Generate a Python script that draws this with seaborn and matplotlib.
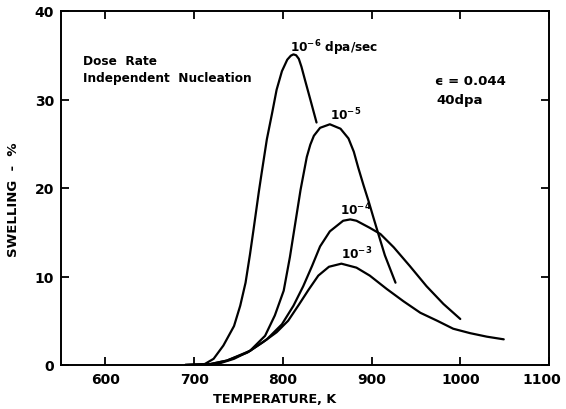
import numpy as np
import pandas as pd
import matplotlib
matplotlib.use("Agg")
import matplotlib.pyplot as plt
from matplotlib.transforms import ScaledTranslation
import seaborn as sns

# Swelling vs. irradiation temperature for four dose rates (dpa/sec)
temp_1e6 = [690, 711, 722, 733, 745, 752, 758, 763, 767, 773, 776, 782, 788, 793, 799,
            805, 809, 812, 815, 818, 821, 825, 831, 838]
swell_1e6 = [0, 0.05, 0.7, 2.2, 4.4, 6.7, 9.3, 12.5, 15.3, 19.6, 21.6, 25.5, 28.5, 31.1, 33.2,
             34.5, 34.95, 35.1, 35.0, 34.6, 33.7, 32.2, 30.0, 27.4]

temp_1e5 = [690, 726, 745, 763, 780, 791, 801, 808, 814, 820, 827, 831, 835, 842, 853,
            865, 874, 880, 885, 891, 897, 902, 908, 915, 927]
swell_1e5 = [0, 0.1, 0.7, 1.6, 3.3, 5.6, 8.4, 12.2, 16.0, 19.8, 23.5, 24.9, 25.9, 26.8, 27.2,
             26.7, 25.6, 24.1, 22.3, 20.3, 18.4, 16.7, 14.7, 12.4, 9.3]

temp_1e4 = [690, 718, 737, 763, 782, 799, 812, 823, 833, 842, 853, 868, 876, 883, 898,
            910, 925, 943, 962, 981, 1000]
swell_1e4 = [0, 0.1, 0.5, 1.6, 2.9, 4.6, 6.7, 8.9, 11.2, 13.4, 15.1, 16.3, 16.45, 16.3, 15.5,
             14.8, 13.3, 11.2, 8.9, 6.9, 5.2]

temp_1e3 = [690, 718, 737, 760, 778, 793, 806, 818, 829, 840, 852, 866, 883, 898, 917,
            936, 955, 974, 992, 1011, 1030, 1049]
swell_1e3 = [0, 0.1, 0.5, 1.4, 2.6, 3.7, 5.0, 6.8, 8.5, 10.1, 11.1, 11.45, 11.0, 10.1, 8.6,
             7.2, 5.9, 5.0, 4.1, 3.6, 3.2, 2.9]

rate_names = ["1e-6", "1e-5", "1e-4", "1e-3"]
x_ticks = [600, 700, 800, 900, 1000, 1100]
y_ticks = [0, 10, 20, 30, 40]

frames = []
for name, t, s in zip(rate_names,
                      [temp_1e6, temp_1e5, temp_1e4, temp_1e3],
                      [swell_1e6, swell_1e5, swell_1e4, swell_1e3]):
    frames.append(pd.DataFrame({"T": t, "S": s, "rate": name}))
df = pd.concat(frames, ignore_index=True)

sns.set_theme(style="ticks")
plt.rcParams["font.family"] = ["DejaVu Sans"]
plt.rcParams["mathtext.default"] = "regular"
plt.rcParams["lines.solid_joinstyle"] = "round"
plt.rcParams["lines.solid_capstyle"] = "round"
for key in ["text.color", "axes.labelcolor", "xtick.color", "ytick.color", "axes.edgecolor"]:
    plt.rcParams[key] = "black"

fig = plt.figure(figsize=(5.66, 4.10), dpi=100)
ax = fig.add_axes([61 / 566, 1 - 366 / 410, 488 / 566, 354 / 410])

sns.lineplot(data=df, x="T", y="S", hue="rate", units="rate", estimator=None,
             sort=False, palette=["black"] * 4, linewidth=1.6, legend=False, ax=ax)

ax.set_xlim(550, 1100)
ax.set_ylim(0, 40)
ax.set_xticks(x_ticks)
ax.set_yticks(y_ticks)
ax.tick_params(direction="in", length=6, width=1.3, top=True, right=True,
               labelsize=10, pad=5)
for lab in ax.get_xticklabels() + ax.get_yticklabels():
    lab.set_fontweight("bold")
# keep the last temperature label inside the figure edge
last = ax.get_xticklabels()[-1]
last.set_transform(last.get_transform() + ScaledTranslation(-0.07, 0, fig.dpi_scale_trans))
for sp in ax.spines.values():
    sp.set_visible(True)
    sp.set_linewidth(1.4)

ax.set_xlabel("TEMPERATURE, K", fontsize=9.2, fontweight="bold")
ax.set_ylabel("SWELLING  -  %", fontsize=9.5, fontweight="bold")
ax.xaxis.set_label_coords(0.4385, -0.076)
ax.yaxis.set_label_coords(-0.085, 0.47)

txt = dict(fontsize=8.7, fontweight="bold", va="center", ha="left")
ax.text(575, 34.4, "Dose  Rate", **txt)
ax.text(575, 32.5, "Independent  Nucleation", **txt)
ax.text(808, 35.9, r"$10^{-6}$ dpa/sec", **txt)
ax.text(853, 28.4, r"$10^{-5}$", **txt)
ax.text(864, 17.6, r"$10^{-4}$", **txt)
ax.text(866, 12.6, r"$10^{-3}$", **txt)
ax.text(971, 32.2, "\u03f5 = 0.044", fontsize=9.5, fontweight="bold", va="center", ha="left")
ax.text(973, 30.0, "40dpa", fontsize=9.5, fontweight="bold", va="center", ha="left")

fig.savefig("out.png", dpi=100)
